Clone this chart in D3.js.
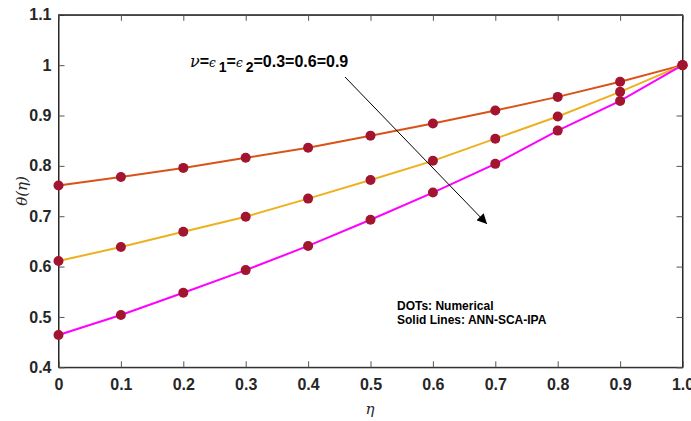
<!DOCTYPE html>
<html><head><meta charset="utf-8">
<script src="https://cdn.jsdelivr.net/npm/d3@7"></script>
<style>body{margin:0;background:#fff}svg{display:block}</style>
</head><body>
<svg id="c" width="691" height="421"></svg>
<script>
const eta = [0,0.1,0.2,0.3,0.4,0.5,0.6,0.7,0.8,0.9,1.0];
const theta03 = [0.761,0.778,0.796,0.816,0.836,0.860,0.884,0.910,0.937,0.967,1.0];
const theta06 = [0.611,0.639,0.669,0.699,0.735,0.772,0.810,0.854,0.898,0.947,1.0];
const theta09 = [0.464,0.504,0.548,0.593,0.641,0.693,0.747,0.804,0.870,0.929,1.0];
const xTicks = [0,0.1,0.2,0.3,0.4,0.5,0.6,0.7,0.8,0.9,1.0];
const xTickLabels = ["0","0.1","0.2","0.3","0.4","0.5","0.6","0.7","0.8","0.9","1.0"];
const yTicks = [0.4,0.5,0.6,0.7,0.8,0.9,1.0,1.1];
const yTickLabels = ["0.4","0.5","0.6","0.7","0.8","0.9","1","1.1"];
const lineColors = ["#D95319","#EDB120","#FF00FF"];
const dotColor = "#A2142F";

const svg = d3.select("#c");
const L=58.5, R=682.5, T=14.8, B=367.3;
const x = d3.scaleLinear().domain([0,1]).range([L,R]);
const y = d3.scaleLinear().domain([0.4,1.1]).range([B,T]);
const font = "'Liberation Sans', Arial, sans-serif";

// box
svg.append("rect").attr("x",L).attr("y",T).attr("width",R-L).attr("height",B-T)
  .attr("fill","none").attr("stroke","#262626").attr("stroke-width",1);

// axes
const xa = svg.append("g").attr("transform",`translate(0,${B})`)
  .call(d3.axisBottom(x).tickValues(xTicks).tickFormat((d,i)=>xTickLabels[i]).tickSizeInner(-6).tickSizeOuter(0).tickPadding(11));
const ya = svg.append("g").attr("transform",`translate(${L},0)`)
  .call(d3.axisLeft(y).tickValues(yTicks).tickFormat((d,i)=>yTickLabels[i]).tickSizeInner(-6).tickSizeOuter(0).tickPadding(7));
const xt = svg.append("g").attr("transform",`translate(0,${T})`)
  .call(d3.axisTop(x).tickValues(xTicks).tickFormat("").tickSizeInner(-6).tickSizeOuter(0));
const yr = svg.append("g").attr("transform",`translate(${R},0)`)
  .call(d3.axisRight(y).tickValues(yTicks).tickFormat("").tickSizeInner(-6).tickSizeOuter(0));
[xa,ya,xt,yr].forEach(g=>{
  g.select(".domain").attr("stroke","#262626");
  g.selectAll(".tick line").attr("stroke","#555");
  g.selectAll("text").attr("font-family",font).attr("font-weight","bold").attr("font-size",16).attr("fill","#262626");
});

const series = [theta03, theta06, theta09];
const line = d3.line().x((d,i)=>x(eta[i])).y(d=>y(d));
series.forEach((s,k)=>{
  svg.append("path").datum(s).attr("d",line).attr("fill","none")
    .attr("stroke",lineColors[k]).attr("stroke-width",2);
});
series.forEach(s=>{
  svg.selectAll(null).data(s).enter().append("circle")
    .attr("cx",(d,i)=>x(eta[i])).attr("cy",d=>y(d)).attr("r",5).attr("fill",dotColor);
});

// arrow
svg.append("defs").append("marker").attr("id","ah").attr("viewBox","0 0 10 10")
  .attr("refX",10).attr("refY",5).attr("markerWidth",10).attr("markerHeight",10)
  .attr("markerUnits","userSpaceOnUse").attr("orient","auto")
  .append("path").attr("d","M0,0 L10,5 L0,10 z").attr("fill","#000");
svg.append("line").attr("x1",345).attr("y1",77).attr("x2",487).attr("y2",224)
  .attr("stroke","#000").attr("stroke-width",1).attr("marker-end","url(#ah)");

// annotation
const greek = "'DejaVu Serif', serif";
const ann = svg.append("text").attr("x",190).attr("y",67).attr("font-family",font)
  .attr("font-weight","bold").attr("font-size",16).attr("fill","#000");
ann.append("tspan").attr("font-family",greek).attr("font-style","italic").attr("font-weight","normal").text("ν");
ann.append("tspan").text("=");
ann.append("tspan").attr("font-family",greek).attr("font-style","italic").attr("font-weight","normal").attr("font-size",12).text("ϵ");
ann.append("tspan").attr("dx",3).attr("dy",5).attr("font-size",14).text("1");
ann.append("tspan").attr("dy",-5).text("=");
ann.append("tspan").attr("font-family",greek).attr("font-style","italic").attr("font-weight","normal").attr("font-size",12).text("ϵ");
ann.append("tspan").attr("dx",3).attr("dy",5).attr("font-size",14).text("2");
ann.append("tspan").attr("dy",-5).text("=0.3=0.6=0.9");

svg.append("text").attr("x",397).attr("y",309.5).attr("font-family",font).attr("font-weight","bold")
  .attr("font-size",12).attr("fill","#000").text("DOTs: Numerical");
svg.append("text").attr("x",397).attr("y",323.5).attr("font-family",font).attr("font-weight","bold")
  .attr("font-size",12).attr("fill","#000").text("Solid Lines: ANN-SCA-IPA");

// axis labels
svg.append("text").attr("x",370).attr("y",414).attr("text-anchor","middle")
  .attr("font-family",greek).attr("font-style","italic").attr("font-size",15).attr("fill","#262626").text("η");
svg.append("text").attr("transform","translate(27,191) rotate(-90)").attr("text-anchor","middle")
  .attr("font-family",greek).attr("font-style","italic").attr("font-size",15).attr("fill","#262626").text("θ(η)");
</script>
</body></html>
